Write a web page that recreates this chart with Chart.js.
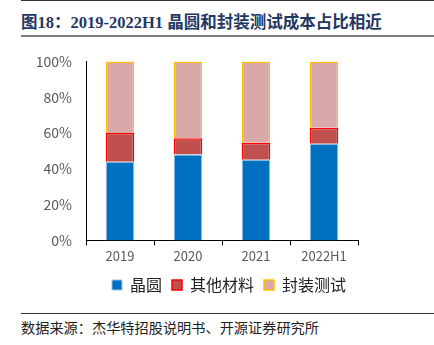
<!DOCTYPE html>
<html>
<head>
<meta charset="utf-8">
<script src="https://cdn.jsdelivr.net/npm/chart.js@4"></script>
<style>
  body { margin: 0; width: 434px; height: 345px; background: #fff; position: relative; overflow: hidden; }
  .topline { position: absolute; left: 21px; right: 0; top: 0; height: 1px; background: #333; }
  .title { position: absolute; left: 21px; top: 9px; font: bold 16.5px "Liberation Serif", "Noto Sans CJK SC", serif; color: #1F3864; white-space: nowrap; }
  .titleline { position: absolute; left: 21px; right: 0; top: 35px; height: 2px; background: #7f7f7f; }
  .chartbox { position: absolute; left: 12px; top: 47px; width: 434px; height: 256px; }
  .footline { position: absolute; left: 21px; right: 0; top: 313px; height: 1px; background: #333; }
  .source { position: absolute; left: 21px; top: 317px; font: 14.2px "Noto Sans CJK SC", sans-serif; color: #222; white-space: nowrap; }
</style>
</head>
<body>
<div class="topline"></div>
<div class="title">图18：2019-2022H1 晶圆和封装测试成本占比相近</div>
<div class="titleline"></div>
<div class="chartbox"><canvas id="chart"></canvas></div>
<div class="footline"></div>
<div class="source">数据来源：杰华特招股说明书、开源证券研究所</div>
<script>
const categories = ['2019', '2020', '2021', '2022H1'];
const wafer = [44, 48, 45, 54];
const otherMaterials = [16, 9, 9.5, 9];
const packageTest = [40, 43, 45.5, 37];
const yTicks = [0, 20, 40, 60, 80, 100];

const ctx = document.getElementById('chart');

new Chart(ctx, {
	type: 'bar',
	data: {
		labels: categories,
		datasets: [{
			label: '晶圆',
			data: wafer,
			backgroundColor: '#0070C0',
			borderColor: '#9DC3E6',
			borderWidth: 1,
		}, {
			label: '其他材料',
			data: otherMaterials,
			backgroundColor: '#C0504D',
			borderColor: '#FF0000',
			borderWidth: 1.5,
		}, {
			label: '封装测试',
			data: packageTest,
			backgroundColor: '#D9A9A9',
			borderColor: '#FFC000',
			borderWidth: 1.5,
		}]
	},
	options: {
		animation: false,
		responsive: true,
		maintainAspectRatio: false,
		devicePixelRatio: 1,
		layout: {
			padding: { left: 0, right: 0, top: 10, bottom: 0 }
		},
		datasets: {
			bar: { barPercentage: 0.42, categoryPercentage: 1 }
		},
		plugins: {
			legend: {
				position: 'bottom',
				labels: {
					boxWidth: 10,
					boxHeight: 10,
					padding: 10,
					color: '#222',
					font: { size: 16, family: '"Noto Sans CJK SC", sans-serif' },
				},
			},
			tooltip: { enabled: false },
		},
		scales: {
			x: {
				stacked: true,
				grid: {
					display: true,
					drawOnChartArea: false,
					offset: true,
					tickLength: 5,
					color: '#000',
				},
				border: { display: true, color: '#000', width: 1 },
				ticks: {
					color: '#595959',
					font: { size: 13, family: '"Noto Sans CJK SC", sans-serif' },
				},
			},
			y: {
				stacked: true,
				min: 0,
				max: 100,
				afterBuildTicks: axis => { axis.ticks = yTicks.map(v => ({ value: v })); },
				afterFit: axis => { axis.width = 74; },
				grid: { display: false },
				border: { display: true, color: '#000', width: 1 },
				ticks: {
					color: '#595959',
					padding: 6,
					font: { size: 14, family: '"Noto Sans CJK SC", sans-serif' },
					callback: v => v + '%',
				},
			},
			spacer: {
				type: 'linear',
				position: 'right',
				display: true,
				afterFit: axis => { axis.width = 88; },
				grid: { display: false },
				border: { display: false },
				ticks: { display: false },
			}
		}
	}
});
</script>
</body>
</html>
